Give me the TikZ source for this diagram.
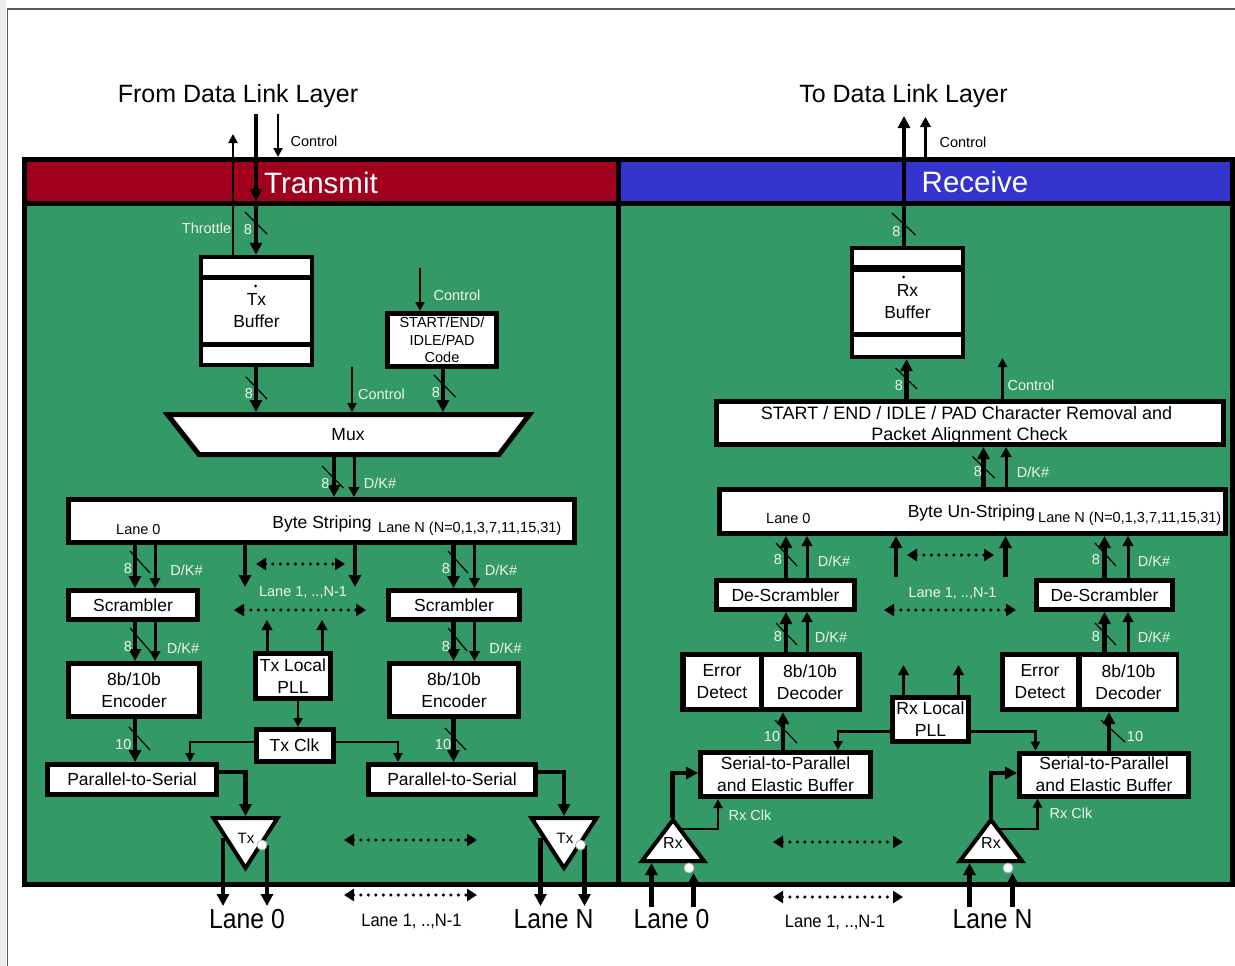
\documentclass[tikz,border=0pt]{standalone}
\usepackage{fontspec}
\setmainfont{Liberation Sans}
\usetikzlibrary{arrows.meta}
\definecolor{tred}{HTML}{A0001E}
\definecolor{rblue}{HTML}{3434CC}
\definecolor{pgreen}{HTML}{339966}
\definecolor{lbl}{HTML}{F2F5EA}
\newcommand\fsz[2]{\fontsize{#1pt}{#2pt}\selectfont}
\tikzset{
  blk/.style={draw=black, line width=5pt, fill=white, inner sep=0pt, align=center, font=\fsz{17.5}{22}, text=black},
  boxt/.style={inner sep=0pt, align=center, font=\fsz{17.5}{22}, text=black},
  bus/.style={line width=4.5pt, -{Triangle[length=12pt,width=12pt]}},
  dk/.style={line width=3pt, -{Triangle[length=10pt,width=10.5pt]}},
  sig/.style={line width=2.2pt, -{Triangle[length=9pt,width=9pt]}},
  sl/.style={line width=1.2pt, black},
  lab/.style={text=lbl, font=\fsz{14.5}{17}, inner sep=0pt},
  dlab/.style={text=black, font=\fsz{14.5}{17}, inner sep=0pt},
  biglab/.style={text=black, font=\fsz{25}{30}, inner sep=0pt},
  hdr/.style={text=white, font=\fsz{29.5}{34}, inner sep=0pt},
  dots/.style={line width=3.5pt, dash pattern=on 0pt off 7.5pt, line cap=round, {Triangle[length=10pt,width=12pt]}-{Triangle[length=10pt,width=12pt]}},
  tri/.style={draw=black, line width=4pt, fill=white, line join=miter},
  trit/.style={inner sep=0pt, font=\fsz{15}{18}, text=black},
  bub/.style={fill=white, draw=gray!60, line width=0.8pt},
}
\begin{document}
\begin{tikzpicture}[x=1pt,y=-1pt]
\useasboundingbox (0,0) rectangle (1235,966);
\fill[white] (0,0) rectangle (1235,966);
% page frame
\fill[gray!15] (0,0) rectangle (6,966);
\draw[gray!70!black, line width=1.8pt] (7.5,966) -- (7.5,9.2) -- (1235,9.2);
% panels
\fill[pgreen] (24,159.5) rectangle (1232,884.5);
\fill[tred] (24,159.5) rectangle (618,203);
\fill[rblue] (618,159.5) rectangle (1232,203);
\draw[line width=5pt] (24,159.5) rectangle (1232,884.5);
\draw[line width=5pt] (24,203) -- (1232,203);
\draw[line width=5pt] (618,159.5) -- (618,884.5);
\node[hdr, anchor=base] (txh) at (321,193) {Transmit};
\node[hdr, anchor=base] (rxh) at (975,192.5) {Receive};
\node[biglab, anchor=base] (fromdl) at (238,102.5) {From Data Link Layer};
\node[biglab, anchor=base] (todl) at (903.5,102.5) {To Data Link Layer};

% ---------------- TRANSMIT ----------------
% column coordinates
\coordinate (xThr) at (233,0);
\coordinate (xD) at (256,0);
\coordinate (x443) at (443,0);
\coordinate (x334) at (334,0);
\coordinate (x354) at (354,0);
\coordinate (xL8) at (135,0);
\coordinate (xLd) at (155,0);
\coordinate (xR8) at (453.5,0);
\coordinate (xRd) at (474.5,0);
\coordinate (x298) at (298,0);
\coordinate (x190) at (190,0);
\coordinate (x398) at (398,0);

% Tx buffer
\node[fill=black, inner sep=0pt, minimum width=115pt, minimum height=112pt] (txbuf) at (256.5,311) {};
\fill[white] (203,259) rectangle (310,275);
\fill[white] (203,280) rectangle (310,342);
\fill[white] (203,347) rectangle (310,363);
\node[boxt] (txbuft) at (256.5,311) {Tx\\Buffer};
\fill (255.5,286) circle (1.5);

% START/END/IDLE/PAD code
\node[blk, minimum width=109pt, minimum height=53pt, font=\fsz{14.5}{17.5}] (scode) at (442,340) {START/END/\\IDLE/PAD\\Code};

% Mux
\draw[line width=5pt, fill=white, line join=miter] (167.5,414.5) -- (529.5,414.5) -- (499,454.5) -- (199,454.5) -- cycle;
\node[boxt] (mux) at (348,435) {Mux};
\coordinate (muxT) at (348,412);
\coordinate (muxB) at (348,457);

% Byte striping
\node[blk, minimum width=506pt, minimum height=43pt] (bs) at (321.5,521) {};
\node[boxt, anchor=base] (bst) at (322,528) {Byte Striping};
\node[dlab, anchor=base west] (bsN) at (378,532) {Lane N (N=0,1,3,7,11,15,31)};
\node[dlab, anchor=base west] (bs0) at (116,534) {Lane 0};

% lanes
\node[blk, minimum width=129pt, minimum height=29pt] (scrL) at (133,605) {Scrambler};
\node[blk, minimum width=131pt, minimum height=29pt] (scrR) at (454,605) {Scrambler};
\node[blk, minimum width=131pt, minimum height=53pt] (encL) at (134,690) {8b/10b\\Encoder};
\node[blk, minimum width=129pt, minimum height=53pt] (encR) at (454,690) {8b/10b\\Encoder};
\node[blk, minimum width=75pt, minimum height=45pt] (txpll) at (293,676) {Tx Local\\PLL};
\node[blk, minimum width=77pt, minimum height=32pt] (txclk) at (294.5,745.5) {Tx Clk};
\node[blk, minimum width=169pt, minimum height=30pt] (p2sL) at (132,779.5) {Parallel-to-Serial};
\node[blk, minimum width=167pt, minimum height=30pt] (p2sR) at (452,779.5) {Parallel-to-Serial};

% Tx drivers
\draw[tri] (213.5,818) -- (277.5,818) -- (245.5,868) -- cycle;
\draw[tri] (531.5,818) -- (596.5,818) -- (564,868) -- cycle;
\coordinate (txLtop) at (245.5,816);
\coordinate (txRtop) at (564,816);
\node[trit] (txLt) at (246,838) {Tx};
\node[trit] (txRt) at (565,838) {Tx};

% top connectors
\coordinate (topD) at (256,114);
\coordinate (hdrD) at (256,201);
\coordinate (topC) at (278,114);
\coordinate (barC) at (278,157);
\coordinate (thrT) at (233,134);
\draw[bus] (topD) -- (hdrD);
\draw[bus] (hdrD) -- (txbuf.north -| xD);
\draw[sig] (topC) -- (barC);
\draw[sig] (txbuf.north -| xThr) -- (thrT);
\node[dlab] (ctl1) at (314,141) {Control};
\node[lab] (thr) at (206.5,228) {Throttle};
\node[lab] (l8a) at (248,230) {8};
\draw[sl] (245,212) -- (267,234);

% buffer/code -> mux
\draw[bus] (txbuf.south -| xD) -- (muxT -| xD);
\node[lab] (l8b) at (249,394) {8};
\draw[sl] (246,377) -- (267,399);
\coordinate (ctl2) at (352,367);
\draw[sig] (ctl2) -- (muxT -| ctl2);
\node[lab] (ctl2l) at (381.5,394.5) {Control};
\coordinate (ctl3) at (420,268);
\draw[sig] (ctl3) -- (scode.north -| ctl3);
\node[lab] (ctl3l) at (457,295) {Control};
\draw[bus] (scode.south -| x443) -- (muxT -| x443);
\node[lab] (l8c) at (436,393) {8};
\draw[sl] (434,375) -- (455.5,397);

% mux -> byte striping
\draw[bus] (muxB -| x334) -- (bs.north -| x334);
\node[lab] (l8d) at (325.5,484) {8};
\draw[sl] (322,466) -- (343.5,488);
\draw[dk] (muxB -| x354) -- (bs.north -| x354);
\node[lab] (dk1) at (380,483) {D/K\#};

% byte striping -> scramblers
\draw[bus] (bs.south -| xL8) -- (scrL.north -| xL8);
\node[lab] (l8e) at (128,569) {8};
\draw[sl] (130,551) -- (150,573);
\draw[dk] (bs.south -| xLd) -- (scrL.north -| xLd);
\node[lab] (dk2) at (186.5,570) {D/K\#};
\draw[bus] (bs.south -| xR8) -- (scrR.north -| xR8);
\node[lab] (l8f) at (446,569) {8};
\draw[sl] (448,551) -- (468,573);
\draw[dk] (bs.south -| xRd) -- (scrR.north -| xRd);
\node[lab] (dk3) at (501,570) {D/K\#};
\coordinate (m1e) at (245,587);
\coordinate (m2e) at (355,587);
\draw[bus] (bs.south -| m1e) -- (m1e);
\draw[bus] (bs.south -| m2e) -- (m2e);
\coordinate (d1a) at (256,564);
\coordinate (d1b) at (345,564);
\coordinate (d2a) at (234,610);
\coordinate (d2b) at (366,610);
\draw[dots] (d1a) -- (d1b);
\draw[dots] (d2a) -- (d2b);
\node[lab] (lmid1) at (303,592) {Lane 1, ..,N-1};

% scramblers -> encoders
\draw[bus] (scrL.south -| xL8) -- (encL.north -| xL8);
\node[lab] (l8g) at (128,647) {8};
\draw[sl] (130,628) -- (150,651);
\draw[dk] (scrL.south -| xLd) -- (encL.north -| xLd);
\node[lab] (dk4) at (183,648) {D/K\#};
\draw[bus] (scrR.south -| xR8) -- (encR.north -| xR8);
\node[lab] (l8h) at (446,647) {8};
\draw[sl] (448,628) -- (467,651);
\draw[dk] (scrR.south -| xRd) -- (encR.north -| xRd);
\node[lab] (dk5) at (505.5,648) {D/K\#};

% encoders -> P2S
\draw[bus] (encL.south -| xL8) -- (p2sL.north -| xL8);
\node[lab] (l10a) at (123.4,745) {10};
\draw[sl] (129,727) -- (150,750);
\draw[bus] (encR.south -| xR8) -- (p2sR.north -| xR8);
\node[lab] (l10b) at (443,745) {10};
\draw[sl] (445,728) -- (466,750);

% PLL and clock
\coordinate (pu1) at (267,620);
\coordinate (pu2) at (322,620);
\draw[dk] (txpll.north -| pu1) -- (pu1);
\draw[dk] (txpll.north -| pu2) -- (pu2);
\draw[sig] (txpll.south -| x298) -- (txclk.north -| x298);
\draw[sig] ([yshift=3.5pt]txclk.west) -| (p2sL.north -| x190);
\draw[sig] ([yshift=3.5pt]txclk.east) -| (p2sR.north -| x398);

% P2S -> Tx
\draw[bus, line join=miter] ([yshift=7.5pt]p2sL.east) -| (txLtop);
\draw[bus, line join=miter] ([yshift=7.5pt]p2sR.east) -| (txRtop);
\coordinate (to1) at (223,838);
\coordinate (to1e) at (223,906);
\coordinate (to2) at (267,845);
\coordinate (to2e) at (267,906);
\coordinate (to3) at (540.5,838);
\coordinate (to3e) at (540.5,906);
\coordinate (to4) at (584.5,845);
\coordinate (to4e) at (584.5,906);
\draw[bus] (to1) -- (to1e);
\draw[bus] (to2) -- (to2e);
\draw[bus] (to3) -- (to3e);
\draw[bus] (to4) -- (to4e);
\draw[bub] (262,845) circle (5);
\draw[bub] (580.5,845) circle (5);
\coordinate (td1a) at (344,840);
\coordinate (td1b) at (477,840);
\coordinate (td2a) at (344,895);
\coordinate (td2b) at (477,895);
\draw[dots] (td1a) -- (td1b);
\draw[dots] (td2a) -- (td2b);
\node[biglab, anchor=base] (tl0) at (247,928) {\fsz{27.5}{30}\scalebox{0.9}[1]{Lane 0}};
\node[biglab, anchor=base] (tlN) at (553.5,928) {\fsz{27.5}{30}\scalebox{0.9}[1]{Lane N}};
\node[dlab, anchor=base] (tlm) at (411.5,926) {\fsz{18}{20}\scalebox{0.92}[1]{Lane 1, ..,N-1}};

% ---------------- RECEIVE ----------------
\coordinate (x906) at (906.5,0);
\coordinate (x1002) at (1002.5,0);
\coordinate (x983) at (983.5,0);
\coordinate (x1006) at (1006,0);
\coordinate (x786) at (786,0);
\coordinate (x807) at (807,0);
\coordinate (x1104) at (1104.5,0);
\coordinate (x1128) at (1128,0);
\coordinate (x783) at (783,0);
\coordinate (x1109) at (1109,0);
\coordinate (x838) at (838,0);
\coordinate (x1035) at (1035.5,0);
\coordinate (x718) at (718,0);
\coordinate (x1037) at (1037.5,0);

% Rx buffer
\node[fill=black, inner sep=0pt, minimum width=115pt, minimum height=113pt] (rxbuf) at (907.5,302.5) {};
\fill[white] (854,250) rectangle (961,265);
\fill[white] (854,272) rectangle (961,332);
\fill[white] (854,337) rectangle (961,355);
\node[boxt] (rxbuft) at (907.5,302) {Rx\\Buffer};
\fill (903.5,277) circle (1.5);

% removal box
\node[blk, minimum width=507pt, minimum height=43pt] (rem) at (970,423) {};
\node[boxt, anchor=base, font=\fsz{18}{22}] (remt1) at (966.5,419) {START / END / IDLE / PAD Character Removal and};
\node[boxt, anchor=base, font=\fsz{18}{22}] (remt2) at (969.5,440) {Packet Alignment Check};

% un-striping
\node[blk, minimum width=506pt, minimum height=44pt] (ubs) at (972.5,511.5) {};
\node[boxt, anchor=base] (ubst) at (971.5,517) {Byte Un-Striping};
\node[dlab, anchor=base west] (ubsN) at (1038,522) {Lane N (N=0,1,3,7,11,15,31)};
\node[dlab, anchor=base west] (ubs0) at (766,523) {Lane 0};

% de-scramblers
\node[blk, minimum width=138pt, minimum height=29pt] (dscL) at (785.5,595) {De-Scrambler};
\node[blk, minimum width=136pt, minimum height=29pt] (dscR) at (1104.5,595) {De-Scrambler};

% decoders
\node[fill=black, inner sep=0pt, minimum width=182pt, minimum height=60pt] (decL) at (771,682) {};
\fill[white] (686,657) rectangle (758.5,706.5);
\fill[white] (763.5,657) rectangle (856,706.5);
\node[boxt] (errL) at (722,682) {Error\\Detect};
\node[boxt] (dcdL) at (810,682) {8b/10b\\Decoder};
\node[fill=black, inner sep=0pt, minimum width=179pt, minimum height=60pt] (decR) at (1089.5,682) {};
\fill[white] (1004.5,657) rectangle (1075.5,706.5);
\fill[white] (1081.5,657) rectangle (1175.5,706.5);
\node[boxt] (errR) at (1040,682) {Error\\Detect};
\node[boxt] (dcdR) at (1128.5,682) {8b/10b\\Decoder};

% Rx PLL and S2P
\node[blk, minimum width=76pt, minimum height=44pt] (rxpll) at (930.5,719.5) {Rx Local\\PLL};
\node[blk, minimum width=170pt, minimum height=44pt] (s2pL) at (785.5,774.5) {Serial-to-Parallel\\and Elastic Buffer};
\node[blk, minimum width=169pt, minimum height=43pt] (s2pR) at (1104,774.5) {Serial-to-Parallel\\and Elastic Buffer};

% Rx receivers
\draw[tri] (642,861) -- (704,861) -- (673,820) -- cycle;
\draw[tri] (960,861) -- (1022,861) -- (991,820) -- cycle;
\node[trit, font=\fsz{16}{19}] (rxLt) at (673,843) {Rx};
\node[trit, font=\fsz{16}{19}] (rxRt) at (991,843) {Rx};

% top right connectors
\coordinate (rtopD) at (904,116);
\coordinate (rtopC) at (925.5,117);
\coordinate (rbarC) at (925.5,157);
\draw[bus] (rxbuf.north -| rtopD) -- (rtopD);
\draw[dk] (rbarC) -- (rtopC);
\node[dlab] (ctl4) at (963,142) {Control};
\node[lab] (r8a) at (896.5,232) {8};
\draw[sl] (892,213) -- (915.5,235);

% removal -> rx buffer
\draw[bus] (rem.north -| x906) -- (rxbuf.south -| x906);
\node[lab] (r8b) at (899,386) {8};
\draw[sl] (895.5,368) -- (917,389);
\coordinate (rcu) at (1002.5,358);
\draw[sig] (rem.north -| x1002) -- (rcu);
\node[lab] (ctl5) at (1031,385) {Control};

% un-striping -> removal
\draw[bus] (ubs.north -| x983) -- (rem.south -| x983);
\node[lab] (r8c) at (978,472) {8};
\draw[sl] (972.5,456.5) -- (994.5,478);
\draw[dk] (ubs.north -| x1006) -- (rem.south -| x1006);
\node[lab] (dk6) at (1033,472) {D/K\#};

% de-scramblers -> un-striping
\draw[bus] (dscL.north -| x786) -- (ubs.south -| x786);
\node[lab] (r8d) at (778,560) {8};
\draw[sl] (776,543) -- (797,566);
\draw[dk] (dscL.north -| x807) -- (ubs.south -| x807);
\node[lab] (dk7) at (834,561) {D/K\#};
\draw[bus] (dscR.north -| x1104) -- (ubs.south -| x1104);
\node[lab] (r8e) at (1096,560) {8};
\draw[sl] (1095,543) -- (1116,566);
\draw[dk] (dscR.north -| x1128) -- (ubs.south -| x1128);
\node[lab] (dk8) at (1154,561) {D/K\#};
\coordinate (mu1) at (896,577);
\coordinate (mu2) at (1005.5,577);
\draw[bus] (mu1) -- (ubs.south -| mu1);
\draw[bus] (mu2) -- (ubs.south -| mu2);
\coordinate (rd1a) at (907,555);
\coordinate (rd1b) at (994,555);
\coordinate (rd2a) at (884,610);
\coordinate (rd2b) at (1016,610);
\draw[dots] (rd1a) -- (rd1b);
\draw[dots] (rd2a) -- (rd2b);
\node[lab] (lmid2) at (952.5,593) {Lane 1, ..,N-1};

% decoders -> de-scramblers
\draw[bus] (decL.north -| x786) -- (dscL.south -| x786);
\node[lab] (r8f) at (778,637) {8};
\draw[sl] (776,623) -- (797,645);
\draw[dk] (decL.north -| x807) -- (dscL.south -| x807);
\node[lab] (dk9) at (831,637) {D/K\#};
\draw[bus] (decR.north -| x1104) -- (dscR.south -| x1104);
\node[lab] (r8g) at (1096,637) {8};
\draw[sl] (1095,623) -- (1116,645);
\draw[dk] (decR.north -| x1128) -- (dscR.south -| x1128);
\node[lab] (dk10) at (1154,637) {D/K\#};

% S2P -> decoders
\draw[bus] (s2pL.north -| x783) -- (decL.south -| x783);
\node[lab] (r10a) at (772,737) {10};
\draw[sl] (775,720) -- (797,743);
\draw[bus] (s2pR.north -| x1109) -- (decR.south -| x1109);
\node[lab] (r10b) at (1135,737) {10};
\draw[sl] (1101,720) -- (1125,742);

% Rx PLL
\coordinate (pr1) at (903.5,665);
\coordinate (pr2) at (958.5,665);
\draw[dk] (rxpll.north -| pr1) -- (pr1);
\draw[dk] (rxpll.north -| pr2) -- (pr2);
\draw[sig] ([yshift=-12pt]rxpll.west) -| (s2pL.north -| x838);
\draw[sig] ([yshift=-12pt]rxpll.east) -| (s2pR.north -| x1035);

% Rx -> S2P
\coordinate (rxLa) at (672.5,818);
\coordinate (rxRa) at (991,818);
\draw[bus, line join=miter] (rxLa) |- ([yshift=1.5pt]s2pL.west);
\draw[bus, line join=miter] (rxRa) |- ([yshift=1.5pt]s2pR.west);
\coordinate (rxLc) at (681,829);
\coordinate (rxRc) at (998,829);
\draw[sig] (rxLc) -| (s2pL.south -| x718);
\draw[sig] (rxRc) -| (s2pR.south -| x1037);
\node[lab] (rclk1) at (750,815) {Rx Clk};
\node[lab] (rclk2) at (1071,813) {Rx Clk};

% inputs
\coordinate (ri1) at (651.5,907);
\coordinate (ri1t) at (651.5,863);
\coordinate (ri2) at (693.5,907);
\coordinate (ri2t) at (693.5,873);
\coordinate (ri3) at (969.5,907);
\coordinate (ri3t) at (969.5,863);
\coordinate (ri4) at (1012.5,907);
\coordinate (ri4t) at (1012.5,873);
\draw[bus] (ri1) -- (ri1t);
\draw[bus] (ri2) -- (ri2t);
\draw[bus] (ri3) -- (ri3t);
\draw[bus] (ri4) -- (ri4t);
\draw[bub] (689,868) circle (5);
\draw[bub] (1008,868) circle (5);
\coordinate (rb1a) at (773,842);
\coordinate (rb1b) at (903,842);
\coordinate (rb2a) at (773,897);
\coordinate (rb2b) at (903,897);
\draw[dots] (rb1a) -- (rb1b);
\draw[dots] (rb2a) -- (rb2b);
\node[biglab, anchor=base] (rl0) at (671.5,928) {\fsz{27.5}{30}\scalebox{0.9}[1]{Lane 0}};
\node[biglab, anchor=base] (rlN) at (992.5,928) {\fsz{27.5}{30}\scalebox{0.9}[1]{Lane N}};
\node[dlab, anchor=base] (rlm) at (835,927) {\fsz{18}{20}\scalebox{0.92}[1]{Lane 1, ..,N-1}};
\end{tikzpicture}
\end{document}
